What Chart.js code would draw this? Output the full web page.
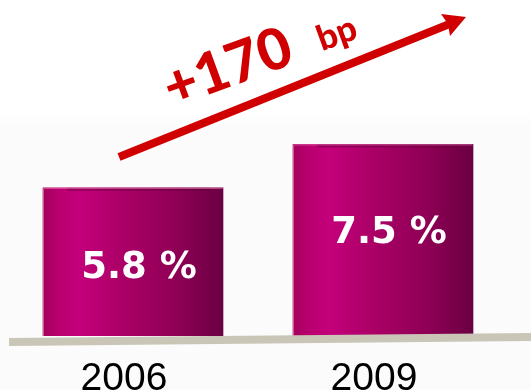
<!DOCTYPE html>
<html>
<head>
<meta charset="utf-8">
<script src="https://cdn.jsdelivr.net/npm/chart.js@4/dist/chart.umd.min.js"></script>
<style>
  html, body { margin: 0; padding: 0; background: #ffffff; }
  #wrap { width: 531px; height: 390px; position: relative; }
</style>
</head>
<body>
<div id="wrap"><canvas id="c" width="531" height="390"></canvas></div>
<script>
// Years shown on the axis
const years = ['2006', '2009'];
// Share in percent for each year
const shares = [5.8, 7.5];
// Small vertical nudges for the value captions (px)
const captionDy = [6, -7];

const BAR_W = 180;

function barGradient(ctx, cx) {
  const x0 = cx - BAR_W / 2, x1 = cx + BAR_W / 2;
  const g = ctx.createLinearGradient(x0, 0, x1, 0);
  g.addColorStop(0.00, '#a3005c');
  g.addColorStop(0.08, '#b8006e');
  g.addColorStop(0.20, '#c4007a');
  g.addColorStop(0.45, '#aa0066');
  g.addColorStop(0.75, '#8e0055');
  g.addColorStop(1.00, '#6a0042');
  return g;
}

// Background, ground strip, cylinder lips, captions, trend arrow
const decor = {
  id: 'decor',
  beforeDraw(chart) {
    const c = chart.ctx;
    c.save();
    c.fillStyle = '#ffffff';
    c.fillRect(0, 0, chart.width, chart.height);
    const bg = c.createLinearGradient(0, 110, 0, 130);
    bg.addColorStop(0, 'rgba(246,246,246,0)');
    bg.addColorStop(1, 'rgba(246,246,246,0.4)');
    c.fillStyle = bg;
    c.fillRect(0, 110, chart.width, chart.height - 110);
    c.restore();
  },
  afterDatasetsDraw(chart) {
    const c = chart.ctx;
    const meta = chart.getDatasetMeta(0);
    c.save();
    meta.data.forEach((bar, i) => {
      const left = bar.x - bar.width / 2;
      const right = bar.x + bar.width / 2;
      // top lip of the cylinder
      c.fillStyle = 'rgba(95,0,55,0.45)';
      c.fillRect(left + 24, bar.y, bar.width - 37, 3);
      c.strokeStyle = 'rgba(235,120,180,0.7)';
      c.lineWidth = 1;
      c.beginPath();
      c.moveTo(left + 0.5, bar.base);
      c.lineTo(left + 0.5, bar.y + 0.5);
      c.lineTo(right - 0.5, bar.y + 0.5);
      c.stroke();
      // value caption
      c.fillStyle = '#ffffff';
      c.font = 'bold 37px "DejaVu Sans"';
      c.textAlign = 'center';
      c.textBaseline = 'middle';
      c.fillText(shares[i].toFixed(1) + ' %', bar.x + 6, (bar.y + bar.base) / 2 + captionDy[i]);
      // year label
      c.fillStyle = '#000000';
      c.font = '39px "Liberation Sans"';
      c.textBaseline = 'alphabetic';
      c.fillText(years[i], bar.x - 9, 390);
    });

    // ground strip
    c.fillStyle = '#c9c6b8';
    c.beginPath();
    c.moveTo(9, 338);
    c.lineTo(531, 333);
    c.lineTo(531, 341);
    c.lineTo(9, 346);
    c.closePath();
    c.fill();

    // trend arrow
    const red = '#d10000';
    c.strokeStyle = red;
    c.fillStyle = red;
    c.lineWidth = 8;
    c.lineCap = 'butt';
    c.beginPath();
    c.moveTo(119, 157);
    c.lineTo(452, 23);
    c.stroke();
    c.beginPath();
    c.moveTo(466, 17);
    c.lineTo(441, 14);
    c.lineTo(448, 24);
    c.lineTo(450, 36);
    c.closePath();
    c.fill();

    // change in basis points
    const bp = Math.round((shares[1] - shares[0]) * 100);
    c.translate(172, 108);
    c.rotate(-20 * Math.PI / 180);
    c.textAlign = 'left';
    c.textBaseline = 'alphabetic';
    c.font = '900 57px Lato';
    const big = '+' + bp;
    c.fillText(big, 0, 0);
    const w = c.measureText(big).width;
    c.font = '900 35px Lato';
    c.fillText('bp', w + 28, -2);
    c.restore();
  }
};

new Chart(document.getElementById('c'), {
  type: 'bar',
  data: {
    labels: years,
    datasets: [{
      data: shares,
      barThickness: BAR_W,
      // per-bar horizontal shading, centred on each bar's own pixel position
      backgroundColor: (ctx) => {
        const xs = ctx.chart.scales.x;
        const cx = xs ? xs.getPixelForValue(ctx.dataIndex) : NaN;
        return Number.isFinite(cx) ? barGradient(ctx.chart.ctx, cx) : '#b0006a';
      },
      borderWidth: 0
    }]
  },
  options: {
    responsive: false,
    animation: false,
    layout: { padding: { left: 8, right: 23, top: 0, bottom: 54 } },
    plugins: { legend: { display: false }, tooltip: { enabled: false } },
    scales: {
      x: { display: false },
      y: { display: false, min: 0, max: 13.15 }
    }
  },
  plugins: [decor]
});
</script>
</body>
</html>
